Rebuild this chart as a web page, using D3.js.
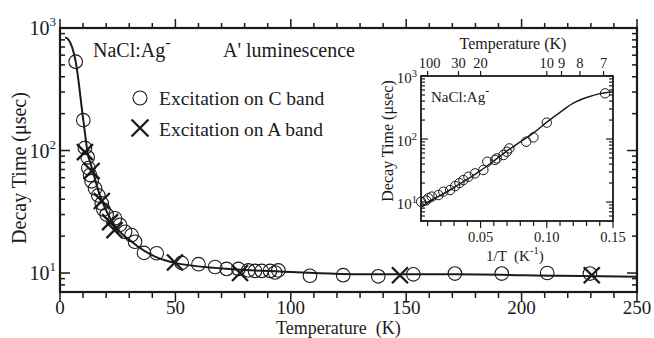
<!DOCTYPE html>
<html><head><meta charset="utf-8">
<script src="https://cdn.jsdelivr.net/npm/d3@7"></script>
<style>
body{margin:0;background:#fff}
text{font-family:"Liberation Serif","Times New Roman",serif;fill:#1a1a1a}
</style>
</head><body>
<svg id="c" width="654" height="338"></svg>
<script>
// ---- Main chart data (Temperature K, decay time usec) ----
const cTemp = [6.8, 10.1, 10.8, 12.0, 12.3, 13.0, 13.7, 15.2, 16.6, 18.1, 18.8, 20.2, 23.8, 26.0, 28.2, 31.0, 32.5, 36.4, 41.9, 52.7, 60.0, 67.2, 72.2, 77.3, 81.6, 84.5, 87.4, 91.0, 93.2, 94.6, 108.3, 122.7, 137.9, 153.1, 171.1, 191.4, 211.1, 229.6];
const cTau  = [531, 177, 105, 88, 72, 63, 56, 49, 43, 37, 33, 30, 28, 24.7, 21.7, 20.4, 18, 14.6, 14.5, 12.1, 11.8, 11.2, 10.8, 10.8, 10.5, 10.4, 10.4, 10.4, 10.1, 10.5, 9.5, 9.6, 9.4, 9.75, 9.9, 9.9, 10.0, 9.9];
const aTemp = [10.8, 13.7, 18.1, 21.7, 23.6, 49.8, 78.0, 147.3, 230.4];
const aTau  = [97, 68, 38.7, 26, 22.4, 12.2, 10.0, 9.6, 9.6];
const fitTemp = [2.2, 3.6, 6.8, 10.1, 12.3, 13.0, 17.3, 21.7, 26.0, 31.1, 33.9, 41.2, 49.8, 76.6, 95.3, 134.3, 171.9, 216.6, 250];
const fitTau  = [839, 809, 531, 177, 89, 81, 43, 28, 21.7, 18, 16.4, 13.6, 12.1, 10.7, 10.3, 9.75, 9.75, 9.5, 9.33];
const mainXTicks = [0, 50, 100, 150, 200, 250];
const mainYTicks = [10, 100, 1000];

// ---- Inset data (1/T, decay time) ----
const insetInvT = [0.0051, 0.0089, 0.0106, 0.0132, 0.0182, 0.0219, 0.0270, 0.0308, 0.0340, 0.0370, 0.0408, 0.0458, 0.0521, 0.0551, 0.0609, 0.0622, 0.0672, 0.0698, 0.0717, 0.0844, 0.0899, 0.1000, 0.1440];
const insetTau  = [10.1, 10.6, 11.5, 12.2, 12.9, 14.6, 15.5, 17.9, 20, 22.3, 25.2, 28.5, 32.2, 43.6, 46.5, 49.3, 55.7, 62.8, 71, 90.6, 106, 182, 531];
const insetFitInvT = [0.006, 0.01, 0.02, 0.03, 0.04, 0.05, 0.06, 0.07, 0.08, 0.09, 0.10, 0.11, 0.12, 0.13, 0.14, 0.15];
const insetFitTau  = [8.4, 9.8, 12.8, 17, 23, 31.5, 45, 65, 90, 125, 185, 265, 370, 455, 525, 563];
const insetXTicks = [0.05, 0.10, 0.15];
const insetTopTemps = [100, 30, 20, 10, 9, 8, 7];
const insetYTicks = [10, 100, 1000];

const svg = d3.select('#c');
const ink = '#1a1a1a';

function supText(g, x, y, base, exp, size, supSize, anchor, supDy) {
  const t = g.append('text').attr('x', x).attr('y', y).attr('font-size', size).attr('text-anchor', anchor || 'start');
  t.append('tspan').text(base);
  t.append('tspan').attr('font-size', supSize).attr('dy', supDy).text(exp);
  return t;
}
function logTicks(lo, hi) {
  const out = [];
  for (let e = -1; e <= 4; e++) for (let k = 1; k <= 9; k++) {
    const v = k * Math.pow(10, e);
    if (v >= lo * 0.999 && v <= hi * 1.001) out.push({v, major: k === 1});
  }
  return out;
}
function xMark(g, cx, cy, h, sw) {
  g.append('path').attr('d', `M${cx-h},${cy-h}L${cx+h},${cy+h}M${cx-h},${cy+h}L${cx+h},${cy-h}`)
    .attr('stroke', ink).attr('stroke-width', sw).attr('fill', 'none');
}

// ================= MAIN =================
const x = d3.scaleLinear().domain([0, 250]).range([60, 637]);
const y = d3.scaleLog().domain([7, 1000]).range([292, 28]);
const main = svg.append('g');

d3.range(0, 251, 10).forEach(t => {
  const maj = t % 50 === 0;
  main.append('line').attr('x1', x(t)).attr('x2', x(t)).attr('y1', 292).attr('y2', 292 + (maj ? 10 : 6)).attr('stroke', ink).attr('stroke-width', 1.5);
  main.append('line').attr('x1', x(t)).attr('x2', x(t)).attr('y1', 28).attr('y2', 28 - (maj ? 9 : 5)).attr('stroke', ink).attr('stroke-width', 1.5);
});
logTicks(7, 1000).forEach(d => {
  const L = d.major ? 10 : 5;
  main.append('line').attr('x1', 60).attr('x2', 60 + L).attr('y1', y(d.v)).attr('y2', y(d.v)).attr('stroke', ink).attr('stroke-width', 1.5);
  main.append('line').attr('x1', 637).attr('x2', 637 - L).attr('y1', y(d.v)).attr('y2', y(d.v)).attr('stroke', ink).attr('stroke-width', 1.5);
});
main.append('rect').attr('x', 60).attr('y', 28).attr('width', 577).attr('height', 264)
  .attr('fill', 'none').attr('stroke', ink).attr('stroke-width', 2.2);

mainXTicks.forEach(t => main.append('text').attr('x', x(t)).attr('y', 314).attr('text-anchor', 'middle').attr('font-size', 19).text(t));
mainYTicks.forEach(v => supText(main, 56, y(v) + 7, '10', String(Math.round(Math.log10(v))), 20, 13, 'end', -9));

main.append('text').attr('transform', 'translate(26,168) rotate(-90)').attr('text-anchor', 'middle').attr('font-size', 20).text('Decay Time (μsec)');
main.append('text').attr('x', 276).attr('y', 334).attr('font-size', 18).style('white-space', 'pre').text('Temperature  (K)');

const fitPts = fitTemp.map((t, i) => [t, fitTau[i]]);
main.append('path').datum(fitPts)
  .attr('d', d3.line().x(d => x(d[0])).y(d => y(d[1])).curve(d3.curveMonotoneX))
  .attr('fill', 'none').attr('stroke', ink).attr('stroke-width', 2);

cTemp.forEach((t, i) => main.append('circle').attr('cx', x(t)).attr('cy', y(cTau[i])).attr('r', 6.8)
  .attr('fill', 'none').attr('stroke', ink).attr('stroke-width', 1.1));
aTemp.forEach((t, i) => xMark(main, x(t), y(aTau[i]), 8, 2.3));

supText(main, 93, 57, 'NaCl:Ag', '-', 20, 16, 'start', -9);
main.append('text').attr('x', 223).attr('y', 57).attr('font-size', 20).text("A' luminescence");
main.append('circle').attr('cx', 140).attr('cy', 98).attr('r', 7).attr('fill', 'none').attr('stroke', ink).attr('stroke-width', 1.1);
main.append('text').attr('x', 159).attr('y', 105).attr('font-size', 19.5).text('Excitation on C band');
xMark(main, 140, 128, 8.5, 2.3);
main.append('text').attr('x', 159).attr('y', 136).attr('font-size', 19.5).text('Excitation on A band');

// ================= INSET =================
const ix = d3.scaleLinear().domain([0.005, 0.15]).range([421, 613]);
const iy = d3.scaleLog().domain([5, 1000]).range([221, 76]);
const ins = svg.append('g');
ins.append('rect').attr('x', 421).attr('y', 76).attr('width', 192).attr('height', 145).attr('fill', '#fff');

d3.range(1, 16).forEach(k => {
  const v = k / 100;
  const maj = k % 5 === 0;
  ins.append('line').attr('x1', ix(v)).attr('x2', ix(v)).attr('y1', 221).attr('y2', 221 + (maj ? 7 : 5)).attr('stroke', ink).attr('stroke-width', 1.2);
});
insetTopTemps.forEach(T => {
  ins.append('line').attr('x1', ix(1 / T)).attr('x2', ix(1 / T)).attr('y1', 76).attr('y2', 71).attr('stroke', ink).attr('stroke-width', 1.2);
  ins.append('text').attr('x', ix(1 / T) + (T === 100 ? 2 : 0)).attr('y', 68).attr('text-anchor', 'middle').attr('font-size', 14.5).text(T);
});
logTicks(5, 1000).forEach(d => {
  const L = d.major ? 7 : 4;
  ins.append('line').attr('x1', 421).attr('x2', 421 + L).attr('y1', iy(d.v)).attr('y2', iy(d.v)).attr('stroke', ink).attr('stroke-width', 1.2);
  ins.append('line').attr('x1', 613).attr('x2', 613 - L).attr('y1', iy(d.v)).attr('y2', iy(d.v)).attr('stroke', ink).attr('stroke-width', 1.2);
});
ins.append('rect').attr('x', 421).attr('y', 76).attr('width', 192).attr('height', 145)
  .attr('fill', 'none').attr('stroke', ink).attr('stroke-width', 1.8);

insetXTicks.forEach(v => ins.append('text').attr('x', ix(v)).attr('y', 242).attr('text-anchor', 'middle').attr('font-size', 14.5).text(v.toFixed(2)));
insetYTicks.forEach(v => supText(ins, 417, iy(v) + 7, '10', String(Math.round(Math.log10(v))), 15, 10.5, 'end', -6));
ins.append('text').attr('x', 513).attr('y', 49).attr('text-anchor', 'middle').attr('font-size', 16).text('Temperature (K)');
ins.append('text').attr('transform', 'translate(393,141) rotate(-90)').attr('text-anchor', 'middle').attr('font-size', 16).text('Decay Time (μsec)');
const xl = ins.append('text').attr('x', 486).attr('y', 261).attr('font-size', 15).style('white-space', 'pre');
xl.append('tspan').text('1/T  (K');
xl.append('tspan').attr('font-size', 10.5).attr('dy', -7).text('-1');
xl.append('tspan').attr('dy', 7).text(')');
supText(ins, 431, 102, 'NaCl:Ag', '-', 15, 12, 'start', -7);

ins.append('clipPath').attr('id', 'iclip').append('rect').attr('x', 421).attr('y', 76).attr('width', 192).attr('height', 145);
const ifit = insetFitInvT.map((v, i) => [v, insetFitTau[i]]);
ins.append('path').datum(ifit).attr('clip-path', 'url(#iclip)')
  .attr('d', d3.line().x(d => ix(d[0])).y(d => iy(d[1])).curve(d3.curveMonotoneX))
  .attr('fill', 'none').attr('stroke', ink).attr('stroke-width', 1.5);
insetInvT.forEach((v, i) => ins.append('circle').attr('cx', ix(v)).attr('cy', iy(insetTau[i])).attr('r', 4.7)
  .attr('fill', 'none').attr('stroke', ink).attr('stroke-width', 1));
</script>
</body></html>
